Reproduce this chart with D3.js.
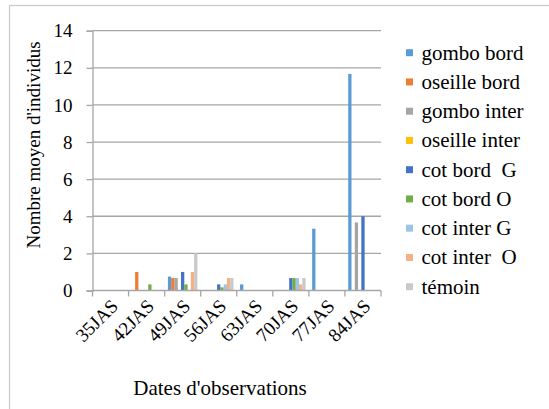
<!DOCTYPE html>
<html>
<head>
<meta charset="utf-8">
<script src="https://cdn.jsdelivr.net/npm/d3@7"></script>
</head>
<body style="margin:0">
<svg id="chart" width="549" height="409"></svg>
<script>
// Observation dates (days after sowing)
const categories = ["35JAS", "42JAS", "49JAS", "56JAS", "63JAS", "70JAS", "77JAS", "84JAS"];

// Mean number of individuals per treatment
const seriesNames = ["gombo bord", "oseille bord", "gombo inter", "oseille inter",
  "cot bord  G", "cot bord O", "cot inter G", "cot inter  O", "témoin"];
const gomboBord    = [0, 0, 0.75, 0, 0.33, 0, 3.33, 11.67];
const oseilleBord  = [0, 1, 0.67, 0, 0, 0, 0, 0];
const gomboInter   = [0, 0, 0.67, 0, 0, 0, 0, 3.67];
const oseilleInter = [0, 0, 0, 0, 0, 0, 0, 0];
const cotBordG     = [0, 0, 1, 0.33, 0, 0.67, 0, 4];
const cotBordO     = [0, 0.33, 0.33, 0.17, 0, 0.67, 0, 0];
const cotInterG    = [0, 0, 0, 0.33, 0, 0.67, 0, 0];
const cotInterO    = [0, 0, 1, 0.67, 0, 0.33, 0, 0];
const temoin       = [0, 0, 2, 0.67, 0, 0.67, 0, 0];
const seriesValues = [gomboBord, oseilleBord, gomboInter, oseilleInter,
  cotBordG, cotBordO, cotInterG, cotInterO, temoin];

const yTicks = [0, 2, 4, 6, 8, 10, 12, 14];
const colors = ["#5B9BD5", "#ED7D31", "#A5A5A5", "#FFC000", "#4472C4",
  "#70AD47", "#9DC3E6", "#F4B183", "#C9C9C9"];

const FONT = "Liberation Serif";
const svg = d3.select("#chart");
const plot = { left: 92.5, right: 381, top: 30.7, bottom: 290.5 };
const axisColor = "#a6a6a6";

// Outer chart frame
svg.append("rect")
  .attr("x", 9.5).attr("y", 5.5)
  .attr("width", 560).attr("height", 420)
  .attr("fill", "none").attr("stroke", "#c8c8c8").attr("stroke-width", 1.2);

const x0 = d3.scaleBand().domain(categories).range([plot.left, plot.right]);
// 9 bars per date, with one bar width of space on each side
const x1 = d3.scaleBand().domain(seriesNames)
  .range([x0.bandwidth() / 11, x0.bandwidth() * 10 / 11]);
const y = d3.scaleLinear().domain([0, 14]).range([plot.bottom, plot.top]);

// Horizontal gridlines
svg.append("g").selectAll("line").data(yTicks.filter(d => d > 0)).join("line")
  .attr("x1", plot.left).attr("x2", plot.right)
  .attr("y1", d => y(d)).attr("y2", d => y(d))
  .attr("stroke", axisColor).attr("stroke-width", 1.3);

// Bars
const groups = svg.append("g").selectAll("g").data(seriesNames).join("g")
  .attr("fill", (d, i) => colors[i]);
groups.selectAll("rect")
  .data((name, i) => seriesValues[i].map((v, j) => ({ cat: categories[j], v, name })))
  .join("rect")
  .attr("x", d => x0(d.cat) + x1(d.name))
  .attr("width", x1.bandwidth())
  .attr("y", d => y(d.v))
  .attr("height", d => y(0) - y(d.v));

// Y axis
const yAxis = d3.axisLeft(y).tickValues(yTicks).tickSize(6).tickPadding(14).tickFormat(d3.format("d"));
const yg = svg.append("g").attr("transform", `translate(${plot.left},0)`).call(yAxis)
  .attr("font-family", FONT).attr("font-size", 19);
yg.select(".domain").attr("stroke", axisColor).attr("stroke-width", 1.3);
yg.selectAll(".tick line").attr("stroke", axisColor).attr("stroke-width", 1.3);
yg.selectAll(".tick text").attr("fill", "#000");

// X axis with ticks on category boundaries
const xg = svg.append("g").attr("transform", `translate(0,${plot.bottom})`);
xg.append("line").attr("x1", plot.left).attr("x2", plot.right)
  .attr("stroke", axisColor).attr("stroke-width", 1.3);
const boundaries = categories.map(c => x0(c)).concat([plot.right]);
xg.selectAll("line.tk").data(boundaries).join("line").attr("class", "tk")
  .attr("x1", d => d).attr("x2", d => d).attr("y1", 0).attr("y2", 6)
  .attr("stroke", axisColor).attr("stroke-width", 1.3);
xg.selectAll("text").data(categories).join("text")
  .attr("transform", d => `translate(${x0(d) + x0.bandwidth() / 2 + 4},12) rotate(-45)`)
  .attr("text-anchor", "end").attr("dy", "0.35em")
  .attr("font-family", FONT).attr("font-size", 19)
  .text(d => d);

// Axis titles
svg.append("text")
  .attr("transform", "translate(40,145) rotate(-90)")
  .attr("text-anchor", "middle")
  .attr("font-family", FONT).attr("font-size", 19)
  .text("Nombre moyen d'individus");
svg.append("text")
  .attr("x", 220).attr("y", 395)
  .attr("text-anchor", "middle")
  .attr("font-family", FONT).attr("font-size", 21)
  .text("Dates d'observations");

// Legend
const items = svg.append("g").selectAll("g").data(seriesNames).join("g")
  .attr("transform", (d, i) => `translate(406,${52.7 + i * 29.25})`);
items.append("rect").attr("x", 0).attr("y", -3.5).attr("width", 7).attr("height", 7)
  .attr("fill", (d, i) => colors[i]);
items.append("text").attr("x", 15.5).attr("dy", "0.33em")
  .attr("font-family", FONT).attr("font-size", 21)
  .attr("xml:space", "preserve")
  .text(d => d);
</script>
</body>
</html>
